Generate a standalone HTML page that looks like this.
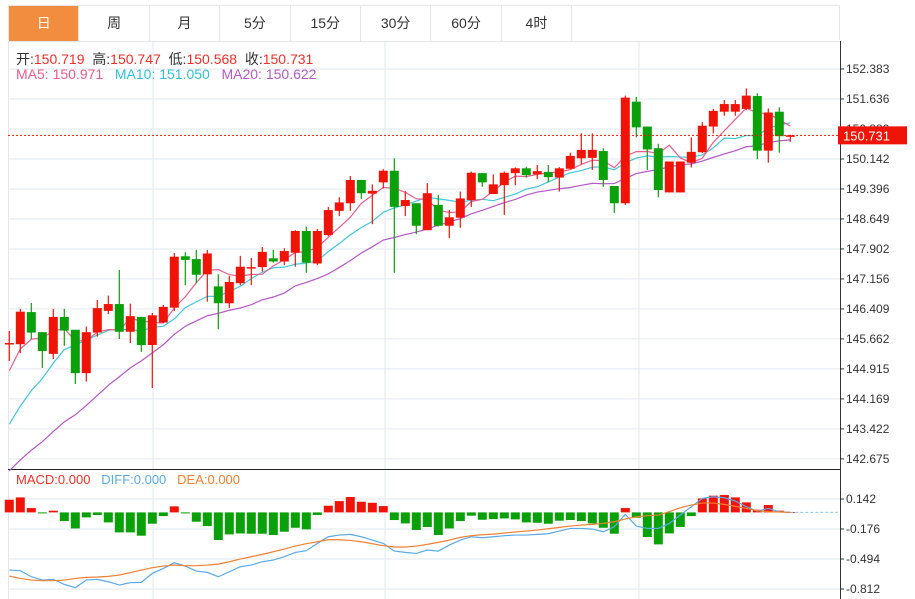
<!DOCTYPE html>
<html><head><meta charset="utf-8"><style>
body{margin:0;width:915px;height:599px;background:#fff;overflow:hidden;font-family:"Liberation Sans","Noto Sans CJK SC",sans-serif}
.tabs{position:absolute;left:8px;top:5px;height:35px;width:832px;border:1px solid #e3e6ea;border-bottom:none;box-sizing:border-box;display:flex}
.tab{width:70.4px;height:35px;line-height:35px;text-align:center;font-size:14px;color:#333;border-right:1px solid #e3e6ea;box-sizing:border-box}
.tab.on{background:#f28d40;color:#fff}
svg{position:absolute;left:0;top:0}
</style></head><body>
<div class="tabs">
<div class="tab on">日</div>
<div class="tab">周</div>
<div class="tab">月</div>
<div class="tab">5分</div>
<div class="tab">15分</div>
<div class="tab">30分</div>
<div class="tab">60分</div>
<div class="tab">4时</div>
</div>
<svg id="c" width="915" height="599"></svg>
<script>
const opens=[145.54,145.53,146.33,145.83,145.29,146.21,145.89,144.81,145.82,146.36,146.53,145.84,146.21,145.51,146.07,146.44,147.72,147.65,147.27,146.97,146.55,147.05,147.44,147.45,147.67,147.59,147.81,148.35,147.54,148.25,148.85,149.04,149.62,149.28,149.56,149.85,148.97,149.04,148.37,149.00,148.48,148.68,149.12,149.79,149.27,149.49,149.79,149.91,149.76,149.82,149.68,149.90,150.16,150.17,150.34,149.47,149.04,151.57,150.95,150.41,149.31,149.31,150.05,150.31,150.95,151.32,151.32,151.39,151.71,150.35,151.32,150.719];
const highs=[145.86,146.41,146.56,145.83,146.41,146.41,145.89,145.97,146.63,146.74,147.38,146.54,146.21,146.31,146.51,147.80,147.82,147.88,147.88,147.27,147.23,147.73,147.68,147.95,147.88,147.92,148.37,148.46,148.40,148.95,149.19,149.72,149.62,149.51,149.89,150.16,149.34,149.04,149.54,149.25,148.87,149.33,149.83,149.79,149.76,149.83,149.93,149.95,149.99,149.99,149.94,150.30,150.78,150.78,150.41,149.47,151.72,151.69,150.95,150.52,150.08,150.08,150.68,151.06,151.39,151.61,151.61,151.90,151.78,151.40,151.43,150.747];
const lows=[145.11,145.31,145.66,144.94,145.16,145.49,144.54,144.60,145.72,146.28,145.66,145.56,145.34,144.44,146.06,146.36,147.00,147.05,146.59,145.90,146.43,147.00,147.00,147.34,147.56,147.50,147.46,147.31,147.50,148.22,148.72,148.85,149.15,148.52,149.41,147.31,148.72,148.27,148.37,148.46,148.17,148.43,148.95,149.45,149.27,148.75,149.49,149.68,149.64,149.56,149.33,149.89,150.01,149.87,149.45,148.80,149.00,150.68,149.87,149.19,149.31,149.31,149.93,150.29,150.78,151.22,151.22,151.36,150.14,150.05,150.30,150.568];
const closes=[145.56,146.34,145.82,145.36,146.21,145.87,144.81,145.83,146.43,146.53,145.84,146.23,145.51,146.25,146.46,147.71,147.63,147.26,147.79,146.55,147.08,147.46,147.45,147.83,147.59,147.85,148.35,147.56,148.35,148.87,149.06,149.62,149.29,149.35,149.85,148.95,149.12,148.48,149.29,148.48,148.69,149.16,149.80,149.56,149.51,149.80,149.91,149.74,149.84,149.69,149.91,150.22,150.37,150.37,149.62,149.04,151.67,150.93,150.38,149.37,150.08,150.08,150.32,150.97,151.34,151.51,151.51,151.72,150.35,151.30,150.71,150.731];
const prevCloses=[140.9,141.0,141.1,141.2,141.0,141.3,141.2,141.4,141.5,141.6,141.8,142.0,142.3,142.4,142.5,143.64,144.6,145.2,145.35];
const priceTicks=[152.383,151.636,150.889,150.142,149.396,148.649,147.902,147.156,146.409,145.662,144.915,144.169,143.422,142.675];
const macdHist=[0.134,0.159,0.046,-0.004,0.018,-0.092,-0.170,-0.053,-0.028,-0.106,-0.212,-0.212,-0.247,-0.120,-0.039,0.064,-0.011,-0.099,-0.145,-0.293,-0.233,-0.223,-0.226,-0.226,-0.240,-0.205,-0.163,-0.180,-0.028,0.071,0.120,0.163,0.113,0.102,0.067,-0.081,-0.117,-0.187,-0.155,-0.240,-0.170,-0.092,-0.035,-0.078,-0.071,-0.064,-0.074,-0.106,-0.110,-0.120,-0.088,-0.081,-0.092,-0.117,-0.163,-0.226,0.046,-0.057,-0.261,-0.339,-0.223,-0.155,-0.039,0.148,0.177,0.184,0.159,0.106,0.028,0.078,0.018,0.004];
const diffVals=[-0.611,-0.618,-0.682,-0.717,-0.710,-0.763,-0.798,-0.717,-0.710,-0.735,-0.770,-0.745,-0.742,-0.647,-0.594,-0.533,-0.569,-0.622,-0.636,-0.682,-0.629,-0.576,-0.558,-0.523,-0.505,-0.470,-0.424,-0.406,-0.329,-0.258,-0.240,-0.233,-0.258,-0.293,-0.329,-0.410,-0.424,-0.435,-0.399,-0.410,-0.346,-0.293,-0.258,-0.269,-0.258,-0.247,-0.240,-0.240,-0.233,-0.226,-0.198,-0.170,-0.170,-0.177,-0.205,-0.152,-0.021,-0.145,-0.170,-0.170,-0.117,-0.028,0.060,0.148,0.166,0.155,0.120,0.060,0.014,0.042,0.007,0.000];
const deaVals=[-0.675,-0.700,-0.717,-0.724,-0.724,-0.717,-0.700,-0.689,-0.685,-0.678,-0.664,-0.639,-0.611,-0.586,-0.569,-0.558,-0.565,-0.565,-0.558,-0.548,-0.523,-0.495,-0.470,-0.445,-0.417,-0.389,-0.357,-0.332,-0.311,-0.290,-0.290,-0.297,-0.311,-0.332,-0.353,-0.367,-0.367,-0.357,-0.339,-0.318,-0.293,-0.265,-0.247,-0.237,-0.230,-0.219,-0.208,-0.198,-0.187,-0.173,-0.159,-0.145,-0.134,-0.127,-0.117,-0.099,-0.071,-0.046,-0.035,-0.028,0.007,0.049,0.078,0.099,0.099,0.085,0.064,0.042,0.018,0.007,0.004,0.000];
const macdTicks=[0.142,-0.176,-0.494,-0.812];

const NS='http://www.w3.org/2000/svg', svg=document.getElementById('c');
function el(t,a,p){const e=document.createElementNS(NS,t);for(const k in a)e.setAttribute(k,a[k]);(p||svg).appendChild(e);return e;}
const xAt=i=>9.3+11*i;
const yP=p=>69+(152.383-p)/0.747*30;
const yM=v=>499+(0.142-v)/0.318*30;
const RED='#f01408',GRN='#0aa00a';

priceTicks.forEach(t=>{const g=el('line',{x1:8,x2:840,y1:yP(t),y2:yP(t),stroke:'#e3e9ef'});

});
macdTicks.forEach(t=>{const g=el('line',{x1:8,x2:840,y1:yM(t),y2:yM(t),stroke:'#e3e9ef'});

});
[153,385,639].forEach(x=>{const g=el('line',{x1:x,x2:x,y1:41,y2:599,stroke:'#e3e9ef'});

});
el('line',{x1:8.5,x2:8.5,y1:41,y2:599,stroke:'#e3e6ea'});
el('line',{x1:8,x2:840,y1:41.5,y2:41.5,stroke:'#e3e6ea'});
el('line',{x1:840.5,x2:840.5,y1:41,y2:599,stroke:'#333'});
el('line',{x1:8,x2:840,y1:469.5,y2:469.5,stroke:'#222'});

priceTicks.forEach(t=>{el('line',{x1:840,x2:844,y1:yP(t),y2:yP(t),stroke:'#333'});
const tx=el('text',{x:846,y:yP(t)+4,'font-size':12,fill:'#333'});tx.textContent=t.toFixed(3);

});
macdTicks.forEach(t=>{el('line',{x1:840,x2:844,y1:yM(t),y2:yM(t),stroke:'#333'});
const tx=el('text',{x:846,y:yM(t)+4,'font-size':12,fill:'#333'});tx.textContent=t.toFixed(3);

});

const all=prevCloses.concat(closes);
function ma(n){return closes.map((c,i)=>{const j=i+prevCloses.length;let s=0;for(let k=j-n+1;k<=j;k++)s+=all[k];return s/n;});}
[[20,'#b458c8','ma20-line'],[10,'#40c8dc','ma10-line'],[5,'#ec5c8c','ma5-line']].forEach(([n,col,name])=>{
const v=ma(n);const l=el('polyline',{points:v.map((p,i)=>xAt(i)+','+yP(p)).join(' '),fill:'none',stroke:col,'stroke-width':1.2});

});

closes.forEach((c,i)=>{const o=opens[i],up=c>=o,col=up?RED:GRN,x=xAt(i);
const g=el('g',{});


el('line',{x1:x,x2:x,y1:yP(highs[i]),y2:yP(lows[i]),stroke:col,'stroke-width':1.2},g);
const t=Math.min(yP(o),yP(c)),h=Math.max(1.5,Math.abs(yP(o)-yP(c)));
el('rect',{x:x-4.5,y:t,width:9,height:h,fill:col},g);});

const lp=closes[closes.length-1];
el('line',{x1:8,x2:838,y1:yP(lp),y2:yP(lp),stroke:RED,'stroke-dasharray':'2,2'});
const box=el('rect',{x:838,y:yP(lp)-9,width:69,height:18,fill:RED});


const lt=el('text',{x:843,y:yP(lp)+5,'font-size':13,fill:'#fff'});lt.textContent=lp.toFixed(3);

macdHist.forEach((v,i)=>{const y0=yM(0),y1=yM(v);
const r=el('rect',{x:xAt(i)-4.5,y:Math.min(y0,y1),width:9,height:Math.max(1,Math.abs(y1-y0)),fill:v>=0?RED:GRN});

});
el('line',{x1:xAt(macdHist.length-1),x2:838,y1:yM(0),y2:yM(0),stroke:'#8cc8ec','stroke-dasharray':'3,2'});
[[diffVals,'#5aaae8','diff-line'],[deaVals,'#f08030','dea-line']].forEach(([arr,col,name])=>{
const l=el('polyline',{points:arr.map((v,i)=>xAt(i)+','+yM(v)).join(' '),fill:'none',stroke:col,'stroke-width':1.2});

});
</script>
<div style="position:absolute;left:16px;top:49px;font-size:14px;color:#333;white-space:nowrap">开:<span style="color:#f0302a">150.719</span>&nbsp;&nbsp;高:<span style="color:#f0302a">150.747</span>&nbsp;&nbsp;低:<span style="color:#f0302a">150.568</span>&nbsp;&nbsp;收:<span style="color:#f0302a">150.731</span></div>
<div style="position:absolute;left:16px;top:66px;font-size:14px;white-space:nowrap"><span style="color:#ec5c8c">MA5: 150.971</span>&nbsp;&nbsp;&nbsp;<span style="color:#30c0d8">MA10: 151.050</span>&nbsp;&nbsp;&nbsp;<span style="color:#b458c8">MA20: 150.622</span></div>
<div style="position:absolute;left:16px;top:472px;font-size:13px;white-space:nowrap"><span style="color:#f0302a">MACD:0.000</span>&nbsp;&nbsp;&nbsp;<span style="color:#5aaae8">DIFF:0.000</span>&nbsp;&nbsp;&nbsp;<span style="color:#f08030">DEA:0.000</span></div>
</body></html>
